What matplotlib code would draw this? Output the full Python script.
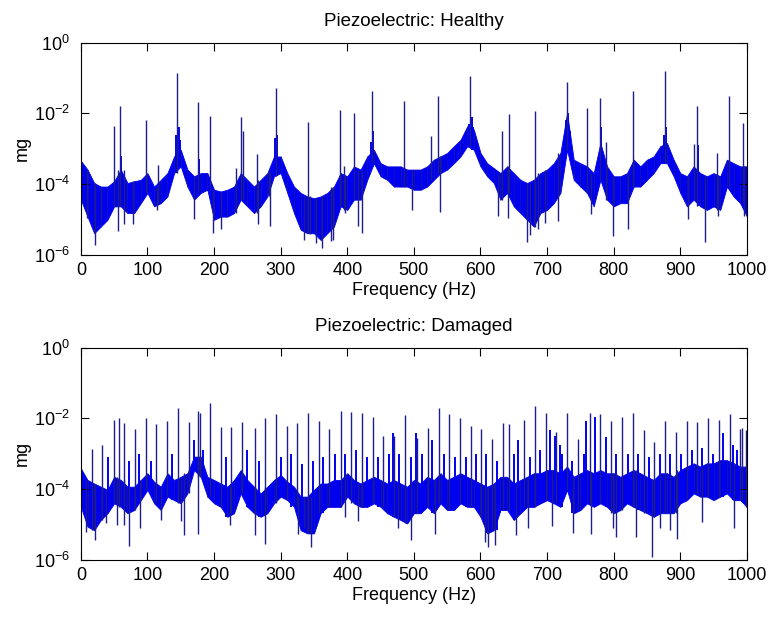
"""Piezoelectric spectra, healthy vs damaged (MATLAB-style semilogy)."""
import matplotlib
matplotlib.use("Agg")
import matplotlib.pyplot as plt
import numpy as np
from matplotlib.ticker import FixedLocator, NullLocator

plt.rcParams["font.family"] = ["Liberation Sans", "DejaVu Sans"]

# frequency grid of the noise band (Hz)
band_freq = list(range(0, 1001, 10))

# ---- healthy: noise band, log10(mg), upper / lower edge every 10 Hz
healthy_hi = [-3.34, -3.59, -3.97, -4.07, -4.07, -3.92, -3.59, -3.97, -3.92, -3.88,
              -3.69, -4.07, -3.88, -3.69, -3.22, -3.03, -3.59, -3.78, -3.69, -3.69,
              -4.16, -4.21, -4.16, -4.07, -3.69, -3.88, -4.07, -3.88, -3.69, -3.22,
              -3.22, -3.69, -4.07, -4.25, -4.35, -4.40, -4.35, -4.25, -4.07, -3.69,
              -3.78, -3.50, -3.59, -3.22, -3.03, -3.41, -3.50, -3.50, -3.50, -3.59,
              -3.59, -3.59, -3.50, -3.31, -3.22, -3.12, -2.93, -2.75, -2.37, -2.46,
              -3.12, -3.41, -3.55, -3.69, -3.50, -3.69, -3.88, -3.97, -3.88, -3.69,
              -3.59, -3.41, -3.12, -1.99, -3.31, -3.41, -3.50, -3.69, -2.84, -3.50,
              -3.78, -3.78, -3.69, -3.31, -3.50, -3.31, -3.22, -2.93, -2.84, -3.31,
              -3.69, -3.78, -3.50, -3.69, -3.78, -3.69, -3.78, -3.31, -3.41, -3.50,
              -3.50]
healthy_lo = [-4.44, -4.92, -5.39, -5.20, -5.01, -4.63, -4.63, -4.82, -4.82, -4.54,
              -4.25, -4.63, -4.54, -4.35, -3.69, -3.50, -4.07, -4.44, -4.25, -4.16,
              -5.01, -4.92, -4.92, -4.82, -4.44, -4.63, -4.82, -4.63, -4.35, -3.78,
              -3.69, -4.25, -4.82, -5.29, -5.39, -5.39, -5.58, -5.39, -5.20, -4.63,
              -4.73, -4.44, -4.44, -3.88, -3.41, -3.78, -3.88, -4.07, -4.07, -4.07,
              -4.16, -4.16, -4.07, -3.88, -3.69, -3.59, -3.41, -3.22, -2.93, -3.03,
              -3.50, -3.78, -3.97, -4.44, -4.25, -4.63, -4.82, -5.01, -5.20, -4.82,
              -4.73, -4.54, -4.25, -3.03, -3.88, -4.07, -4.25, -4.63, -3.88, -4.44,
              -4.63, -4.54, -4.54, -4.07, -4.07, -3.88, -3.69, -3.41, -3.41, -3.78,
              -4.25, -4.63, -4.44, -4.63, -4.73, -4.63, -4.73, -4.07, -4.35, -4.54,
              -4.92]

# healthy: spectral lines (Hz, log10 top)
healthy_peak_f = [50, 58.5, 97.5, 116, 145, 175.5, 193.5, 233.5, 241, 244, 265,
                  282.5, 292.5, 341, 389, 395, 409.5, 437.5, 485.5, 525.5, 536.5,
                  585, 633, 642.5, 681.5, 730, 760, 779.5, 788, 828.5, 877, 920.5,
                  925.5, 955, 973.5, 994]
healthy_peak_v = [-2.37, -1.80, -2.20, -3.47, -0.86, -1.69, -2.07, -3.55, -2.10,
                  -2.50, -3.15, -3.61, -1.28, -2.25, -1.90, -3.50, -1.99, -1.38,
                  -1.64, -2.65, -1.52, -0.95, -2.51, -2.02, -1.94, -1.12, -1.85,
                  -1.57, -2.82, -1.38, -0.81, -2.86, -1.78, -3.12, -1.52, -2.27]
# healthy: resonance shoulders next to the big lines
healthy_hump_f = [60, 143, 147, 149, 177, 291, 294, 436, 439, 583, 587, 589,
                  728, 732, 734, 781, 875, 879, 927]
healthy_hump_v = [-3.2, -2.6, -2.4, -2.75, -3.3, -2.7, -2.6, -2.8, -2.5, -2.3,
                  -2.1, -2.4, -2.2, -2.0, -2.5, -2.4, -2.6, -2.4, -2.9]
# healthy: deep notches (Hz, log10 bottom)
healthy_dip_f = [9.5, 21.5, 30, 55.5, 64.5, 78, 114, 170.5, 198, 210.5, 266,
                 284, 335, 344, 352.5, 362.5, 375.5, 379, 396.5, 415.5, 421.5,
                 496.5, 539.5, 626, 642, 670.5, 674.5, 687, 697, 716, 766, 799,
                 821, 911, 936.5, 956.5, 995]
healthy_dip_v = [-4.95, -5.71, -5.00, -5.33, -5.14, -5.14, -4.72, -5.00, -5.38,
                 -5.28, -5.14, -5.19, -5.57, -5.40, -5.66, -5.80, -5.62, -5.57,
                 -4.81, -5.19, -5.38, -4.72, -4.78, -4.91, -4.95, -5.63, -5.45,
                 -5.28, -5.10, -5.05, -4.85, -5.47, -5.28, -5.00, -5.63, -4.90,
                 -4.90]

# ---- damaged
damaged_hi = [-3.41, -3.74, -3.84, -3.93, -4.02, -3.65, -3.74, -3.93, -3.93, -3.74,
              -3.55, -3.79, -3.93, -3.55, -3.74, -3.65, -3.55, -3.08, -3.08, -3.65,
              -3.74, -3.84, -3.93, -3.74, -3.46, -3.74, -3.93, -4.12, -3.93, -3.74,
              -3.60, -3.79, -3.93, -4.21, -4.21, -4.02, -3.84, -3.84, -3.74, -3.74,
              -3.55, -3.74, -3.84, -3.74, -3.65, -3.74, -3.84, -3.74, -3.84, -3.93,
              -3.74, -3.84, -3.65, -3.74, -3.55, -3.74, -3.65, -3.55, -3.65, -3.74,
              -3.84, -3.93, -3.84, -3.65, -3.65, -3.84, -3.74, -3.65, -3.55, -3.55,
              -3.46, -3.46, -3.55, -3.36, -3.65, -3.55, -3.46, -3.55, -3.46, -3.55,
              -3.55, -3.65, -3.55, -3.46, -3.55, -3.65, -3.74, -3.55, -3.55, -3.65,
              -3.46, -3.36, -3.27, -3.36, -3.27, -3.27, -3.18, -3.18, -3.27, -3.36,
              -3.36]
damaged_lo = [-4.50, -5.06, -5.16, -4.87, -4.68, -4.40, -4.50, -4.68, -4.59, -4.31,
              -4.02, -4.40, -4.59, -4.21, -4.31, -4.40, -4.12, -3.46, -3.65, -4.21,
              -4.40, -4.50, -4.78, -4.68, -4.12, -4.50, -4.68, -4.78, -4.68, -4.40,
              -4.21, -4.31, -4.50, -5.16, -5.25, -5.25, -4.68, -4.50, -4.50, -4.50,
              -4.21, -4.40, -4.50, -4.50, -4.40, -4.50, -4.68, -4.78, -4.87, -4.97,
              -4.68, -4.68, -4.50, -4.68, -4.40, -4.59, -4.59, -4.40, -4.50, -4.50,
              -4.78, -5.25, -5.16, -4.59, -4.59, -4.87, -4.68, -4.50, -4.50, -4.40,
              -4.31, -4.40, -4.50, -4.02, -4.68, -4.59, -4.40, -4.50, -4.40, -4.50,
              -4.68, -4.59, -4.40, -4.50, -4.59, -4.68, -4.78, -4.68, -4.68, -4.68,
              -4.40, -4.31, -4.12, -4.21, -4.21, -4.31, -4.21, -4.12, -4.31, -4.31,
              -4.50]

damaged_peak_f = [17, 32.5, 49.5, 57.5, 65, 81.5, 97.5, 113, 129.5, 146, 162, 176,
                  178.5, 194, 210, 226, 242.5, 261, 277, 293.5, 309, 325, 341, 357,
                  373, 390, 405.5, 421.5, 438, 454, 470, 486.5, 504.5, 520.5, 537,
                  553, 569.5, 585.5, 601, 617.5, 633.5, 643, 666, 682, 698, 713.5,
                  730, 746, 764, 780, 796, 813, 829, 845.5, 861, 877, 893, 909.5,
                  925, 941.5, 957.5, 974, 990, 993, 998]
damaged_peak_v = [-2.87, -2.74, -2.05, -2.00, -2.13, -2.31, -1.99, -2.17, -2.06,
                  -1.70, -2.10, -1.79, -1.85, -1.57, -2.25, -2.24, -2.11, -2.27,
                  -2.00, -1.87, -2.21, -2.12, -1.84, -2.08, -2.31, -1.79, -1.81,
                  -1.84, -1.96, -2.50, -2.50, -1.91, -2.55, -2.27, -1.70, -1.87,
                  -2.00, -2.20, -2.31, -2.57, -2.13, -2.17, -2.05, -1.65, -1.84,
                  -2.38, -1.84, -2.57, -1.84, -1.88, -2.08, -1.96, -1.84, -2.33,
                  -2.66, -2.08, -2.38, -2.08, -2.10, -2.00, -2.05, -1.88, -2.30,
                  -2.27, -2.32]
# damaged: smaller in-between lines
damaged_hump_f = [41, 73, 88, 105, 137, 170, 184, 218, 250, 268, 300, 316, 332,
                  349, 364, 381, 397, 413, 429, 446, 462, 469, 478, 495, 503, 512,
                  526.5, 545, 561, 578, 593, 609, 625, 650, 657, 674, 690, 705,
                  711.5, 719.5, 722, 738, 755, 759, 771.5, 788, 804, 821, 837, 853,
                  869, 885, 901, 917, 933, 949, 964, 979, 985]
damaged_hump_v = [-3.1, -3.2, -3.0, -3.2, -3.0, -2.6, -2.9, -3.1, -2.9, -3.2,
                  -3.1, -3.0, -3.3, -3.2, -3.1, -3.0, -3.0, -2.9, -3.1, -3.1,
                  -3.0, -2.42, -3.0, -3.1, -2.40, -3.0, -2.61, -3.0, -3.1, -3.08,
                  -3.0, -3.0, -3.2, -3.0, -2.6, -3.1, -2.9, -2.33, -2.5, -2.75,
                  -3.0, -3.2, -3.0, -2.06, -1.97, -2.52, -3.0, -3.0, -3.0, -3.1,
                  -3.0, -3.0, -3.0, -2.9, -2.84, -3.0, -2.42, -2.75, -2.9]
damaged_dip_f = [8, 21.5, 38, 54.5, 64.5, 73, 88.5, 121, 151, 155, 176, 223.5,
                 261, 276.5, 326, 334.5, 345, 396.5, 416, 476.5, 495.5, 531, 607,
                 612, 622, 653, 672, 707, 739, 766, 799.5, 803.5, 833.5, 857,
                 870, 884, 895, 933, 980.5]
damaged_dip_v = [-5.21, -5.44, -4.97, -5.00, -5.01, -5.60, -5.10, -4.87, -4.90,
                 -5.30, -5.26, -5.01, -5.30, -5.54, -5.26, -5.10, -5.63, -4.79,
                 -4.90, -5.10, -5.44, -5.26, -5.49, -5.63, -5.58, -5.30, -5.10,
                 -5.05, -5.25, -5.26, -5.10, -5.34, -5.35, -5.92, -5.10, -5.16,
                 -5.40, -4.92, -5.10]

titles = ["Piezoelectric: Healthy", "Piezoelectric: Damaged"]
x_ticks = list(range(0, 1001, 100))
y_ticks = [1e-6, 1e-4, 1e-2, 1e0]
y_tick_labels = [r"$\mathregular{10^{-6}}$", r"$\mathregular{10^{-4}}$",
                 r"$\mathregular{10^{-2}}$", r"$\mathregular{10^{0}}$"]

BAND = "#0000f0"
LINE = "#1e1e8a"
FS = 13


def nearest(edge, freqs):
    # band value at the grid point closest to each line
    idx = np.rint(np.array(freqs) / 10).astype(int)
    return np.array(edge)[idx]


def draw_panel(ax, hi, lo, pk_f, pk_v, hm_f, hm_v, dp_f, dp_v, title):
    f = np.array(band_freq)
    ax.fill_between(f, 10 ** np.array(lo), 10 ** np.array(hi),
                    color=BAND, lw=0.6, edgecolor=BAND)
    # darker hatching inside the band, one stroke per grid point
    ax.vlines(f, 10 ** np.array(lo), 10 ** np.array(hi), color=LINE, lw=0.7, alpha=0.6)
    ax.vlines(hm_f, 10 ** nearest(lo, hm_f), 10 ** np.array(hm_v), color=BAND, lw=1.4)
    ax.vlines(pk_f, 10 ** nearest(lo, pk_f), 10 ** np.array(pk_v), color=LINE, lw=1.0)
    ax.vlines(dp_f, 10 ** nearest(hi, dp_f), 10 ** np.array(dp_v), color=LINE, lw=1.0)

    ax.set_yscale("log")
    ax.set_xlim(0, 1000)
    ax.set_ylim(1e-6, 1e0)
    ax.xaxis.set_major_locator(FixedLocator(x_ticks))
    ax.yaxis.set_major_locator(FixedLocator(y_ticks))
    ax.yaxis.set_minor_locator(NullLocator())
    ax.set_yticklabels(y_tick_labels)
    ax.tick_params(direction="in", top=True, right=True, length=6, width=0.8,
                   labelsize=FS)
    ax.tick_params(axis="y", pad=8)
    ax.tick_params(axis="x", pad=5)
    for s in ax.spines.values():
        s.set_linewidth(0.8)
    ax.set_title(title, fontsize=FS + 0.5, pad=12)
    ax.set_xlabel("Frequency (Hz)", fontsize=FS, labelpad=2)
    ax.set_ylabel("mg", fontsize=FS, labelpad=2)


def main():
    fig = plt.figure(figsize=(7.7, 6.17), dpi=100)
    ax1 = fig.add_axes([0.105, 0.587, 0.865, 0.344])
    ax2 = fig.add_axes([0.105, 0.0925, 0.865, 0.344])
    draw_panel(ax1, healthy_hi, healthy_lo, healthy_peak_f, healthy_peak_v,
               healthy_hump_f, healthy_hump_v, healthy_dip_f, healthy_dip_v, titles[0])
    draw_panel(ax2, damaged_hi, damaged_lo, damaged_peak_f, damaged_peak_v,
               damaged_hump_f, damaged_hump_v, damaged_dip_f, damaged_dip_v, titles[1])
    fig.savefig("out.png", dpi=100)


if __name__ == "__main__":
    main()
